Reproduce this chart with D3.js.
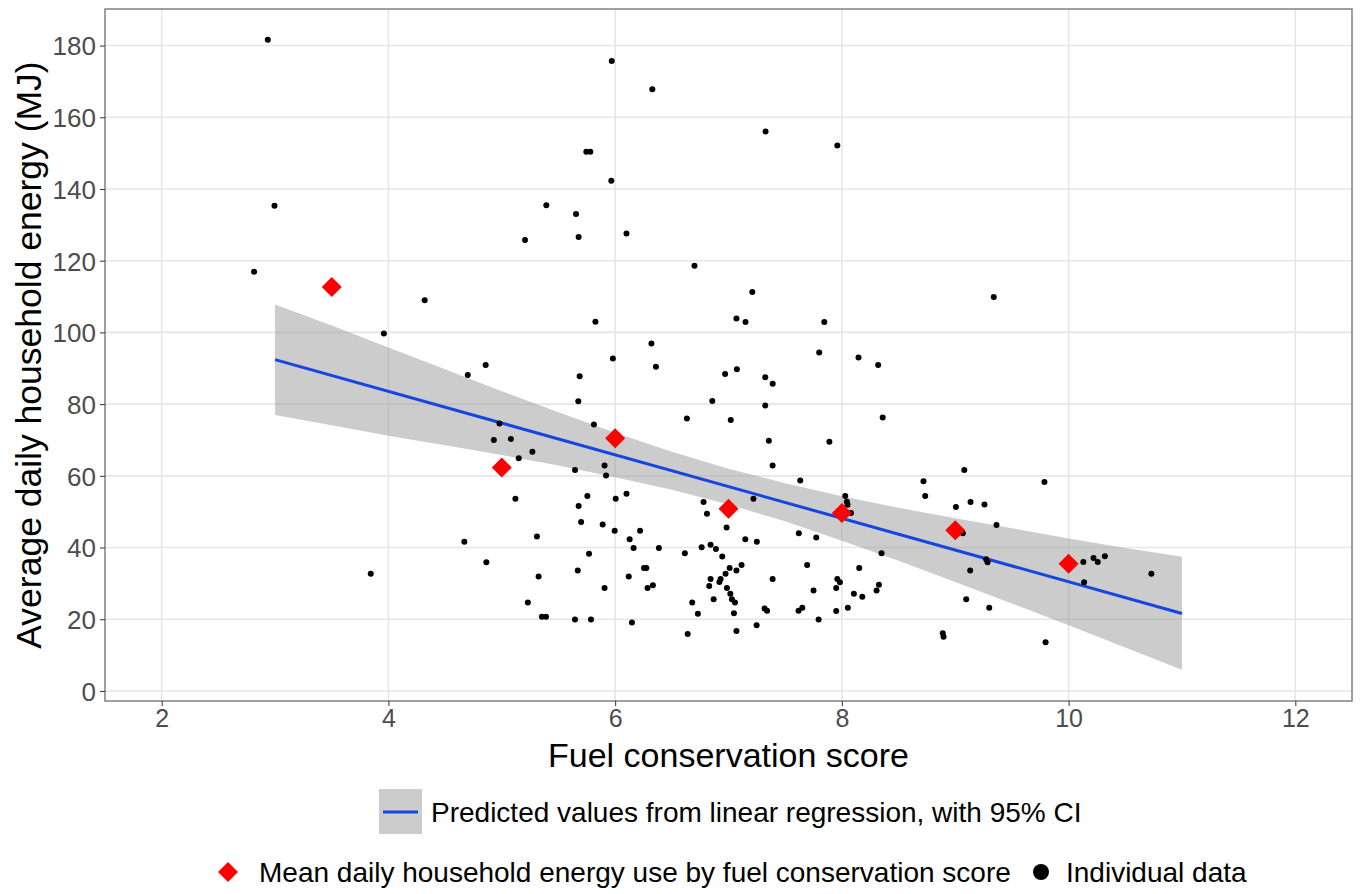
<!DOCTYPE html>
<html lang="en">
<head>
    <meta charset="UTF-8">
    <title>Household energy by fuel conservation score</title>
    <script src="https://d3js.org/d3.v7.min.js"></script>
    <style>
        body { margin: 0; background: white; }
        svg { font-family: "Liberation Sans", Arial, sans-serif; }
        .tick text { fill: #4d4d4d; font-size: 26px; }
        .tick line { stroke: #333; }
    </style>
</head>
<body>
    <script>
        // individual households: [fuel conservation score, daily energy MJ]
        const individual = [
            [2.936,181.6],[5.97,175.7],[5.746,150.4],[5.781,150.4],[5.966,142.3],[2.995,135.3],
            [5.393,135.5],[5.655,133.0],[5.205,125.8],[5.678,126.6],[6.10,127.6],[2.815,116.9],
            [4.32,109.0],[5.826,103.0],[3.96,99.7],[5.98,92.7],
            [6.328,167.8],[7.327,156.0],[7.96,152.1],[6.70,118.6],[7.21,111.3],[7.07,103.9],
            [7.15,102.9],[7.845,102.9],[9.34,109.9],[6.32,96.9],[7.80,94.4],[8.147,93.0],
            [4.858,90.9],[4.70,88.1],[5.687,87.8],[5.675,80.8],[5.813,74.3],[4.98,74.6],
            [4.93,70.0],[5.08,70.3],[5.27,66.7],[5.15,64.9],[5.646,61.6],[5.907,62.9],
            [5.92,60.1],[5.12,53.6],[5.755,54.4],[6.005,53.6],[6.10,55.0],[5.678,51.6],
            [5.70,47.1],[5.89,46.4],[5.996,44.7],[6.22,44.7],[6.128,42.3],[6.163,39.9],
            [5.31,43.1],[4.67,41.6],[5.77,38.3],[4.864,35.9],[3.844,32.7],[5.325,31.9],
            [5.67,33.6],[6.12,31.9],[6.254,34.3],[6.275,34.3],[6.286,28.7],[5.907,28.7],
            [5.23,24.7],[5.354,20.7],[5.39,20.7],[5.646,19.9],[5.787,19.9],[6.148,19.1],
            [6.36,90.4],[8.32,90.9],[6.97,88.4],[7.074,89.7],[7.324,87.5],[7.39,85.7],
            [6.857,80.9],[7.324,79.6],[6.633,76.0],[7.02,75.6],[8.36,76.3],[7.356,69.8],
            [7.89,69.5],[7.389,62.9],[7.633,58.7],[8.72,58.5],[9.787,58.3],[9.08,61.6],
            [8.735,54.4],[8.03,54.4],[8.044,52.8],[8.05,51.9],[8.08,49.6],[7.22,53.6],
            [6.78,52.7],[6.81,49.4],[9.006,51.3],[9.135,52.7],[9.258,52.0],[9.364,46.3],
            [9.067,44.0],[6.983,45.6],[6.386,39.9],[6.615,38.4],[6.763,40.1],[6.842,40.8],
            [6.889,39.6],[6.945,37.5],[7.148,42.3],[7.25,41.6],[7.62,44.0],[7.774,42.8],
            [8.35,38.4],[7.01,34.3],[7.115,35.1],[7.07,33.6],[6.974,32.7],[6.842,31.2],
            [6.93,31.2],[6.92,30.4],[6.83,29.3],[6.986,28.7],[7.389,31.2],[7.694,35.1],
            [8.153,34.3],[7.96,31.2],[7.983,30.3],[7.95,28.7],[7.75,28.0],[8.327,29.6],
            [8.306,28.0],[8.106,27.1],[8.18,26.3],[6.333,29.5],[7.016,27.1],[7.03,25.6],
            [7.057,24.7],[6.869,25.6],[6.68,24.7],[6.73,21.5],[7.048,21.7],[7.318,23.0],
            [7.34,22.4],[7.618,22.4],[7.651,23.2],[7.95,22.3],[8.053,23.2],[9.097,25.6],
            [9.30,23.2],[7.795,19.9],[7.248,18.3],[6.64,15.9],[7.07,16.7],[8.89,16.1],
            [8.897,15.1],[9.797,13.6],[9.273,36.7],[9.285,35.9],[9.132,33.6],
            [10.13,36.0],[10.22,37.1],[10.257,36.0],[10.32,37.6],[10.73,32.7],[10.137,30.3]
        ];

        // group means
        const meanScores = [3.5, 5, 6, 7, 8, 9, 10];
        const meanEnergy = [112.7, 62.3, 70.5, 50.8, 49.6, 44.8, 35.5];

        // regression fit and 95% CI
        const fitX = [3, 11];
        const fitY = [92.4, 21.6];
        const ciX = [3, 3.5, 4, 4.5, 5, 5.5, 6, 6.5, 7, 7.5, 8, 8.5, 9, 9.5, 10, 10.5, 11];
        const ciLow = [77.0, 74.1, 71.2, 68.5, 65.8, 62.9, 59.6, 56.1, 52.0, 47.3, 41.9, 36.3, 30.4, 24.4, 18.3, 12.1, 5.9];
        const ciHigh = [107.8, 101.9, 95.8, 89.7, 83.6, 77.7, 72.0, 66.7, 62.0, 57.9, 54.3, 51.1, 48.2, 45.4, 42.5, 39.9, 37.4];

        const xTicks = [2, 4, 6, 8, 10, 12];
        const yTicks = [0, 20, 40, 60, 80, 100, 120, 140, 160, 180];

        const width = 1362;
        const height = 894;
        const margin = {top: 9, right: 10, bottom: 193, left: 105};

        const svg = d3.select('body').append('svg')
            .attr('width', width)
            .attr('height', height);

        const x = d3.scaleLinear().domain([1.5, 12.5]).range([margin.left, width - margin.right]);
        const y = d3.scaleLinear().domain([-2.8, 190.2]).range([height - margin.bottom, margin.top]);

        // grid
        svg.append('g').selectAll('line').data(xTicks).join('line')
            .attr('x1', d => x(d)).attr('x2', d => x(d))
            .attr('y1', margin.top).attr('y2', height - margin.bottom)
            .attr('stroke', '#e6e6e6').attr('stroke-width', 1.6);
        svg.append('g').selectAll('line').data(yTicks).join('line')
            .attr('y1', d => y(d)).attr('y2', d => y(d))
            .attr('x1', margin.left).attr('x2', width - margin.right)
            .attr('stroke', '#e6e6e6').attr('stroke-width', 1.6);

        // confidence band
        const band = ciX.map((v, i) => ({x: v, lo: ciLow[i], hi: ciHigh[i]}));
        svg.append('path')
            .datum(band)
            .attr('fill', '#999999')
            .attr('fill-opacity', 0.5)
            .attr('d', d3.area().x(d => x(d.x)).y0(d => y(d.lo)).y1(d => y(d.hi)));

        svg.append('path')
            .datum(fitX.map((v, i) => [v, fitY[i]]))
            .attr('fill', 'none')
            .attr('stroke', '#1646e0')
            .attr('stroke-width', 3)
            .attr('d', d3.line().x(d => x(d[0])).y(d => y(d[1])));

        // individual points
        svg.append('g').selectAll('circle').data(individual).join('circle')
            .attr('cx', d => x(d[0]))
            .attr('cy', d => y(d[1]))
            .attr('r', 3)
            .attr('fill', 'black');

        // mean diamonds
        const diamond = d3.symbol().type(d3.symbolSquare).size(200);
        svg.append('g').selectAll('path').data(meanScores).join('path')
            .attr('d', diamond)
            .attr('transform', (d, i) => `translate(${x(d)},${y(meanEnergy[i])}) rotate(45)`)
            .attr('fill', '#ff0000');

        // panel border
        svg.append('rect')
            .attr('x', margin.left).attr('y', margin.top)
            .attr('width', width - margin.left - margin.right)
            .attr('height', height - margin.top - margin.bottom)
            .attr('fill', 'none')
            .attr('stroke', '#808080')
            .attr('stroke-width', 1.5);

        // axes
        const xAxis = svg.append('g')
            .attr('transform', `translate(0,${height - margin.bottom})`)
            .call(d3.axisBottom(x).tickValues(xTicks).tickSize(5).tickPadding(3));
        xAxis.select('.domain').remove();
        xAxis.selectAll('.tick text').style('font-size', '25px');

        const yAxis = svg.append('g')
            .attr('transform', `translate(${margin.left},0)`)
            .call(d3.axisLeft(y).tickValues(yTicks).tickSize(5).tickPadding(4));
        yAxis.select('.domain').remove();
        yAxis.selectAll('.tick text').attr('dy', '0.36em');

        // axis titles
        svg.append('text')
            .attr('x', (margin.left + width - margin.right) / 2)
            .attr('y', 767)
            .attr('text-anchor', 'middle')
            .style('font-size', '34px')
            .text('Fuel conservation score');

        svg.append('text')
            .attr('transform', `translate(41,${(margin.top + height - margin.bottom) / 2}) rotate(-90)`)
            .attr('text-anchor', 'middle')
            .style('font-size', '35.5px')
            .text('Average daily household energy (MJ)');

        // legend: regression
        const leg1 = svg.append('g');
        leg1.append('rect')
            .attr('x', 379).attr('y', 789).attr('width', 43).attr('height', 45)
            .attr('fill', '#cccccc');
        leg1.append('line')
            .attr('x1', 383).attr('x2', 418).attr('y1', 812).attr('y2', 812)
            .attr('stroke', '#1646e0').attr('stroke-width', 3);
        leg1.append('text')
            .attr('x', 431).attr('y', 822)
            .style('font-size', '28px')
            .text('Predicted values from linear regression, with 95% CI');

        // legend: means and individuals
        const leg2 = svg.append('g');
        leg2.append('path')
            .attr('d', diamond)
            .attr('transform', 'translate(228,872) rotate(45)')
            .attr('fill', '#ff0000');
        leg2.append('text')
            .attr('x', 259).attr('y', 882)
            .style('font-size', '28px')
            .text('Mean daily household energy use by fuel conservation score');
        leg2.append('circle')
            .attr('cx', 1041).attr('cy', 872).attr('r', 8)
            .attr('fill', 'black');
        leg2.append('text')
            .attr('x', 1066).attr('y', 882)
            .style('font-size', '28px')
            .text('Individual data');
    </script>
</body>
</html>
